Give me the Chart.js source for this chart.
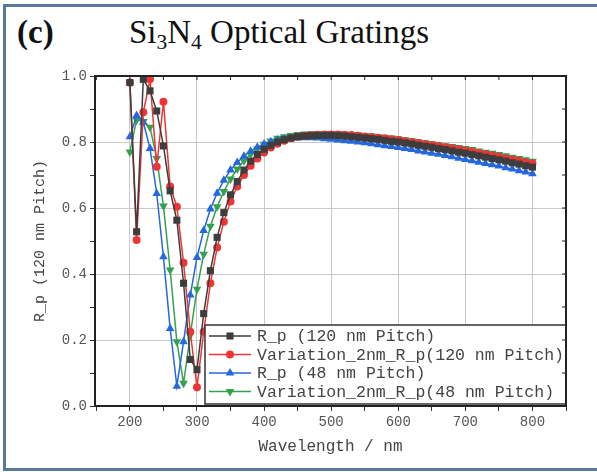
<!DOCTYPE html>
<html>
<head>
<meta charset="utf-8">
<script src="https://cdn.jsdelivr.net/npm/chart.js@4.4.1/dist/chart.umd.min.js"></script>
<style>
  html, body { margin: 0; padding: 0; background: #fff; }
  #wrap { position: relative; width: 597px; height: 472px; overflow: hidden; }
  #frame { position: absolute; left: 3px; top: 4px; width: 600px; height: 461px;
           border: 3px solid #58799a; border-right: none; }
  .ttl { position: absolute; font-family: "Liberation Serif", "Times New Roman", serif;
         font-size: 33px; color: #111; white-space: nowrap; }
  .ttl sub { font-size: 65%; vertical-align: -0.3em; line-height: 0; }
  canvas { position: absolute; left: 0; top: 0; }
</style>
</head>
<body>
<div id="wrap">
  <div id="frame"></div>
  <div class="ttl" style="left:17px; top:14px; font-weight:bold;">(c)</div>
  <div class="ttl" style="left:129px; top:14px;">Si<sub>3</sub>N<sub>4</sub> Optical Gratings</div>
  <canvas id="chart" width="597" height="472"></canvas>
</div>
<script>
// wavelength, nm
const wavelengths = [200, 210, 220, 230, 240, 250, 260, 270, 280, 290,
  300, 310, 320, 330, 340, 350, 360, 370, 380, 390,
  400, 410, 420, 430, 440, 450, 460, 470, 480, 490,
  500, 510, 520, 530, 540, 550, 560, 570, 580, 590,
  600, 610, 620, 630, 640, 650, 660, 670, 680, 690,
  700, 710, 720, 730, 740, 750, 760, 770, 780, 790, 800];

const rp120 = [0.98, 0.528, 0.99, 0.955, 0.894, 0.788, 0.652, 0.563, 0.372, 0.141,
  0.11, 0.28, 0.41, 0.511, 0.586, 0.64, 0.68, 0.715, 0.742, 0.762,
  0.778, 0.79, 0.80, 0.807, 0.812, 0.816, 0.818, 0.819, 0.82, 0.82,
  0.82, 0.819, 0.818, 0.816, 0.814, 0.812, 0.810, 0.808, 0.805, 0.802,
  0.800, 0.797, 0.794, 0.790, 0.787, 0.784, 0.780, 0.777, 0.773, 0.769,
  0.766, 0.762, 0.758, 0.754, 0.750, 0.746, 0.742, 0.737, 0.733, 0.728, 0.724];

const var120 = [0.98, 0.503, 0.89, 0.99, 0.725, 0.922, 0.665, 0.604, 0.434, 0.225,
  0.057, 0.225, 0.372, 0.48, 0.558, 0.62, 0.665, 0.70, 0.728, 0.75,
  0.768, 0.783, 0.795, 0.804, 0.811, 0.816, 0.819, 0.821, 0.822, 0.823,
  0.823, 0.823, 0.822, 0.821, 0.819, 0.817, 0.815, 0.813, 0.811, 0.808,
  0.806, 0.803, 0.800, 0.797, 0.794, 0.791, 0.788, 0.784, 0.781, 0.778,
  0.774, 0.771, 0.767, 0.763, 0.759, 0.755, 0.751, 0.747, 0.743, 0.739, 0.735];

const rp48 = [0.816, 0.88, 0.86, 0.78, 0.644, 0.452, 0.235, 0.06, 0.195, 0.336,
  0.45, 0.532, 0.597, 0.645, 0.684, 0.715, 0.738, 0.757, 0.772, 0.784,
  0.794, 0.801, 0.806, 0.81, 0.812, 0.813, 0.813, 0.813, 0.812, 0.81,
  0.808, 0.806, 0.804, 0.802, 0.800, 0.798, 0.795, 0.792, 0.789, 0.786,
  0.783, 0.780, 0.777, 0.773, 0.770, 0.766, 0.763, 0.759, 0.755, 0.751,
  0.747, 0.743, 0.739, 0.735, 0.731, 0.727, 0.722, 0.718, 0.713, 0.709, 0.704];

const var48 = [0.77, 0.867, 0.862, 0.845, 0.75, 0.606, 0.412, 0.195, 0.069, 0.215,
  0.354, 0.46, 0.545, 0.604, 0.65, 0.688, 0.718, 0.743, 0.763, 0.779,
  0.793, 0.803, 0.811, 0.816, 0.82, 0.823, 0.824, 0.825, 0.825, 0.825,
  0.825, 0.825, 0.824, 0.823, 0.822, 0.820, 0.818, 0.816, 0.814, 0.812,
  0.810, 0.807, 0.804, 0.801, 0.798, 0.795, 0.792, 0.789, 0.786, 0.783,
  0.780, 0.777, 0.773, 0.769, 0.766, 0.762, 0.758, 0.754, 0.750, 0.746, 0.742];

const seriesNames = ['R_p (120 nm Pitch)', 'Variation_2nm_R_p(120 nm Pitch)',
  'R_p (48 nm Pitch)', 'Variation_2nm_R_p(48 nm Pitch)'];
const seriesColors = ['#3d3d3d', '#ee3535', '#2468dc', '#35a04e'];
const seriesValues = [rp120, var120, rp48, var48];
const xTickLabels = [200, 300, 400, 500, 600, 700, 800];
const yTickLabels = [0.0, 0.2, 0.4, 0.6, 0.8, 1.0];

const markers = [
  { pointStyle: 'rect', pointRadius: 5, pointRotation: 0 },
  { pointStyle: 'circle', pointRadius: 4, pointRotation: 0 },
  { pointStyle: 'triangle', pointRadius: 5, pointRotation: 0 },
  { pointStyle: 'triangle', pointRadius: 5, pointRotation: 180 }
];

const monoFont = '"Liberation Mono", "DejaVu Sans Mono", monospace';

const datasets = seriesValues.map((vals, i) => ({
  label: seriesNames[i],
  data: vals.map((v, j) => ({ x: wavelengths[j], y: v })),
  borderColor: seriesColors[i],
  backgroundColor: seriesColors[i],
  borderWidth: 1.5,
  pointBorderWidth: 0,
  ...markers[i]
}));

// legend drawn inside the plot, with line + marker samples
const insideLegend = {
  id: 'insideLegend',
  afterDatasetsDraw(chart) {
    const { ctx, chartArea } = chart;
    const w = 361, h = 79;
    const x0 = chartArea.right - w, y0 = chartArea.bottom - h - 2;
    ctx.save();
    ctx.fillStyle = '#fff';
    ctx.fillRect(x0, y0, w, h);
    ctx.strokeStyle = '#333';
    ctx.lineWidth = 1.5;
    ctx.strokeRect(x0, y0, w, h);
    ctx.font = '16.5px ' + monoFont;
    ctx.textBaseline = 'middle';
    chart.data.datasets.forEach((ds, i) => {
      const yy = y0 + 11 + i * 18.5;
      ctx.strokeStyle = ds.borderColor;
      ctx.lineWidth = 1.5;
      ctx.beginPath();
      ctx.moveTo(x0 + 4, yy);
      ctx.lineTo(x0 + 46, yy);
      ctx.stroke();
      ctx.fillStyle = ds.backgroundColor;
      Chart.helpers.drawPoint(ctx, {
        pointStyle: ds.pointStyle, radius: ds.pointRadius,
        rotation: ds.pointRotation, borderWidth: 0
      }, x0 + 25, yy);
      ctx.fillStyle = '#444';
      ctx.fillText(ds.label, x0 + 52, yy + 1);
    });
    ctx.restore();
  }
};

// box round the plot with inward ticks on top and right
const plotBox = {
  id: 'plotBox',
  afterDraw(chart) {
    const { ctx, chartArea, scales } = chart;
    ctx.save();
    ctx.strokeStyle = '#222';
    ctx.lineWidth = 2;
    ctx.strokeRect(chartArea.left, chartArea.top, chartArea.width, chartArea.height);
    ctx.lineWidth = 1;
    scales.x.ticks.forEach(t => {
      const px = scales.x.getPixelForValue(t.value);
      ctx.beginPath();
      ctx.moveTo(px, chartArea.top);
      ctx.lineTo(px, chartArea.top + 4);
      ctx.stroke();
    });
    scales.y.ticks.forEach(t => {
      const py = scales.y.getPixelForValue(t.value);
      ctx.beginPath();
      ctx.moveTo(chartArea.right, py);
      ctx.lineTo(chartArea.right - 4, py);
      ctx.stroke();
    });
    ctx.restore();
  }
};

new Chart(document.getElementById('chart'), {
  type: 'line',
  data: { datasets },
  plugins: [insideLegend, plotBox],
  options: {
    responsive: false,
    animation: false,
    layout: { padding: { top: 76, left: 31, right: 31, bottom: 16 } },
    plugins: { legend: { display: false }, tooltip: { enabled: false } },
    scales: {
      x: {
        type: 'linear', min: 148, max: 850,
        afterFit: s => { s.height = 50; },
        afterBuildTicks: s => {
          const t = [];
          for (let v = 150; v <= 850; v += 50) t.push({ value: v });
          s.ticks = t;
        },
        ticks: {
          color: '#555', font: { family: monoFont, size: 14 },
          maxRotation: 0, autoSkip: false,
          callback: v => xTickLabels.includes(v) ? String(v) : ''
        },
        grid: {
          color: c => (c.tick && xTickLabels.includes(c.tick.value)) ? '#c9c9c9' : 'rgba(0,0,0,0)',
          tickColor: '#333', tickLength: 5, lineWidth: 1
        },
        border: { color: '#222', width: 2 },
        title: { display: true, text: 'Wavelength / nm', color: '#444',
                 font: { family: monoFont, size: 16 }, padding: { top: 2, bottom: 0 } }
      },
      y: {
        min: 0, max: 1,
        afterFit: s => { s.width = 64; },
        ticks: {
          stepSize: 0.1, color: '#555', font: { family: monoFont, size: 14 },
          callback: v => yTickLabels.some(t => Math.abs(t - v) < 1e-6) ? v.toFixed(1) : ''
        },
        grid: {
          color: c => (c.tick && yTickLabels.some(t => Math.abs(t - c.tick.value) < 1e-6)) ? '#c9c9c9' : 'rgba(0,0,0,0)',
          tickColor: '#333', tickLength: 5, lineWidth: 1
        },
        border: { color: '#222', width: 2 },
        title: { display: true, text: 'R_p (120 nm Pitch)', color: '#444',
                 font: { family: monoFont, size: 15 }, padding: { top: 0, bottom: 4 } }
      }
    }
  }
});
</script>
</body>
</html>
